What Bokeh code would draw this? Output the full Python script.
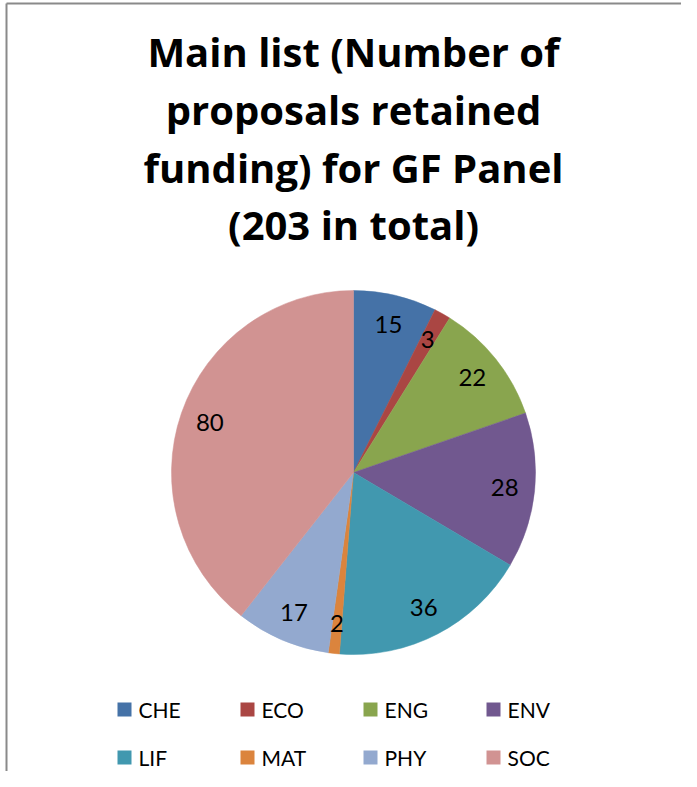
import math
from bokeh.plotting import figure
from bokeh.models import Range1d, ColumnDataSource
from bokeh.core.properties import value
from bokeh.embed import file_html
from bokeh.resources import INLINE

# ---- data ----
categories = ["CHE", "ECO", "ENG", "ENV", "LIF", "MAT", "PHY", "SOC"]
counts = [15, 3, 22, 28, 36, 2, 17, 80]
colors = ["#4572A7", "#AA4643", "#89A54E", "#71588F", "#4198AF", "#DB843D", "#93A9CF", "#D19392"]
title_lines = ["Main list (Number of", "proposals retained", "funding) for GF Panel", "(203 in total)"]

# ---- layout (screen px; y measured from top of page) ----
W, H = 681, 771
FONT = "Lato"

def sy(y):
    return 787 - y

p = figure(width=W, height=H, output_backend="svg", toolbar_location=None,
           x_range=Range1d(8, 8 + W), y_range=Range1d(8, 8 + H),
           min_border=0, min_border_left=0, min_border_right=0,
           min_border_top=0, min_border_bottom=0)
p.axis.visible = False
p.grid.visible = False
p.outline_line_color = None
p.background_fill_color = "white"
p.border_fill_color = "white"

# chart frame (top and left edges visible)
p.line(x=[14, 8 + W], y=[sy(11), sy(11)], line_color="#8a8a8a", line_width=2)
p.line(x=[14, 14], y=[sy(11), 8], line_color="#8a8a8a", line_width=2)

# title
title_centers = [59, 117, 175, 232]
p.text(x=[361] * 4, y=[sy(b) for b in title_centers], text=title_lines,
       text_font=value("Open Sans"), text_font_style="bold", text_font_size="40px",
       text_align="center", text_baseline="middle", text_color="black")

# pie
cx, cy, r = 361, sy(480), 182
total = sum(counts)
starts, ends, lx, ly = [], [], [], []
cum = 0
for v in counts:
    c0, c1 = cum / total, (cum + v) / total
    cum += v
    starts.append(math.pi / 2 - 2 * math.pi * c1)
    ends.append(math.pi / 2 - 2 * math.pi * c0)
    mid = math.pi / 2 - math.pi * (c0 + c1)
    lx.append(cx + 152 * math.cos(mid))
    ly.append(cy + 152 * math.sin(mid))

src = ColumnDataSource(dict(cat=categories, val=counts, color=colors,
                            start=starts, end=ends, lx=lx, ly=ly,
                            lab=[str(v) for v in counts]))
p.wedge(x=cx, y=cy, radius=r, start_angle="start", end_angle="end",
        fill_color="color", line_color="color", line_width=0.5, source=src)
p.text(x="lx", y="ly", text="lab", source=src, text_font=value(FONT),
       text_font_size="24px", text_align="center", text_baseline="middle",
       text_color="black")

# legend (2 rows x 4 cols)
col_x = [125, 248, 371, 494]
row_y = [717, 765]
sq_x, sq_y, tx, ty = [], [], [], []
for i in range(len(categories)):
    cxl = col_x[i % 4]
    ryl = row_y[i // 4]
    sq_x.append(cxl + 7)
    sq_y.append(sy(ryl))
    tx.append(cxl + 21)
    ty.append(sy(ryl))
lsrc = ColumnDataSource(dict(x=sq_x, y=sq_y, tx=tx, ty=ty, color=colors, cat=categories))
p.scatter(x="x", y="y", marker="square", size=14, fill_color="color",
          line_color=None, source=lsrc)
p.text(x="tx", y="ty", text="cat", source=lsrc, text_font=value(FONT),
       text_font_size="21px", text_align="left", text_baseline="middle",
       text_color="black")

open("out.html", "w").write(file_html(p, INLINE))
